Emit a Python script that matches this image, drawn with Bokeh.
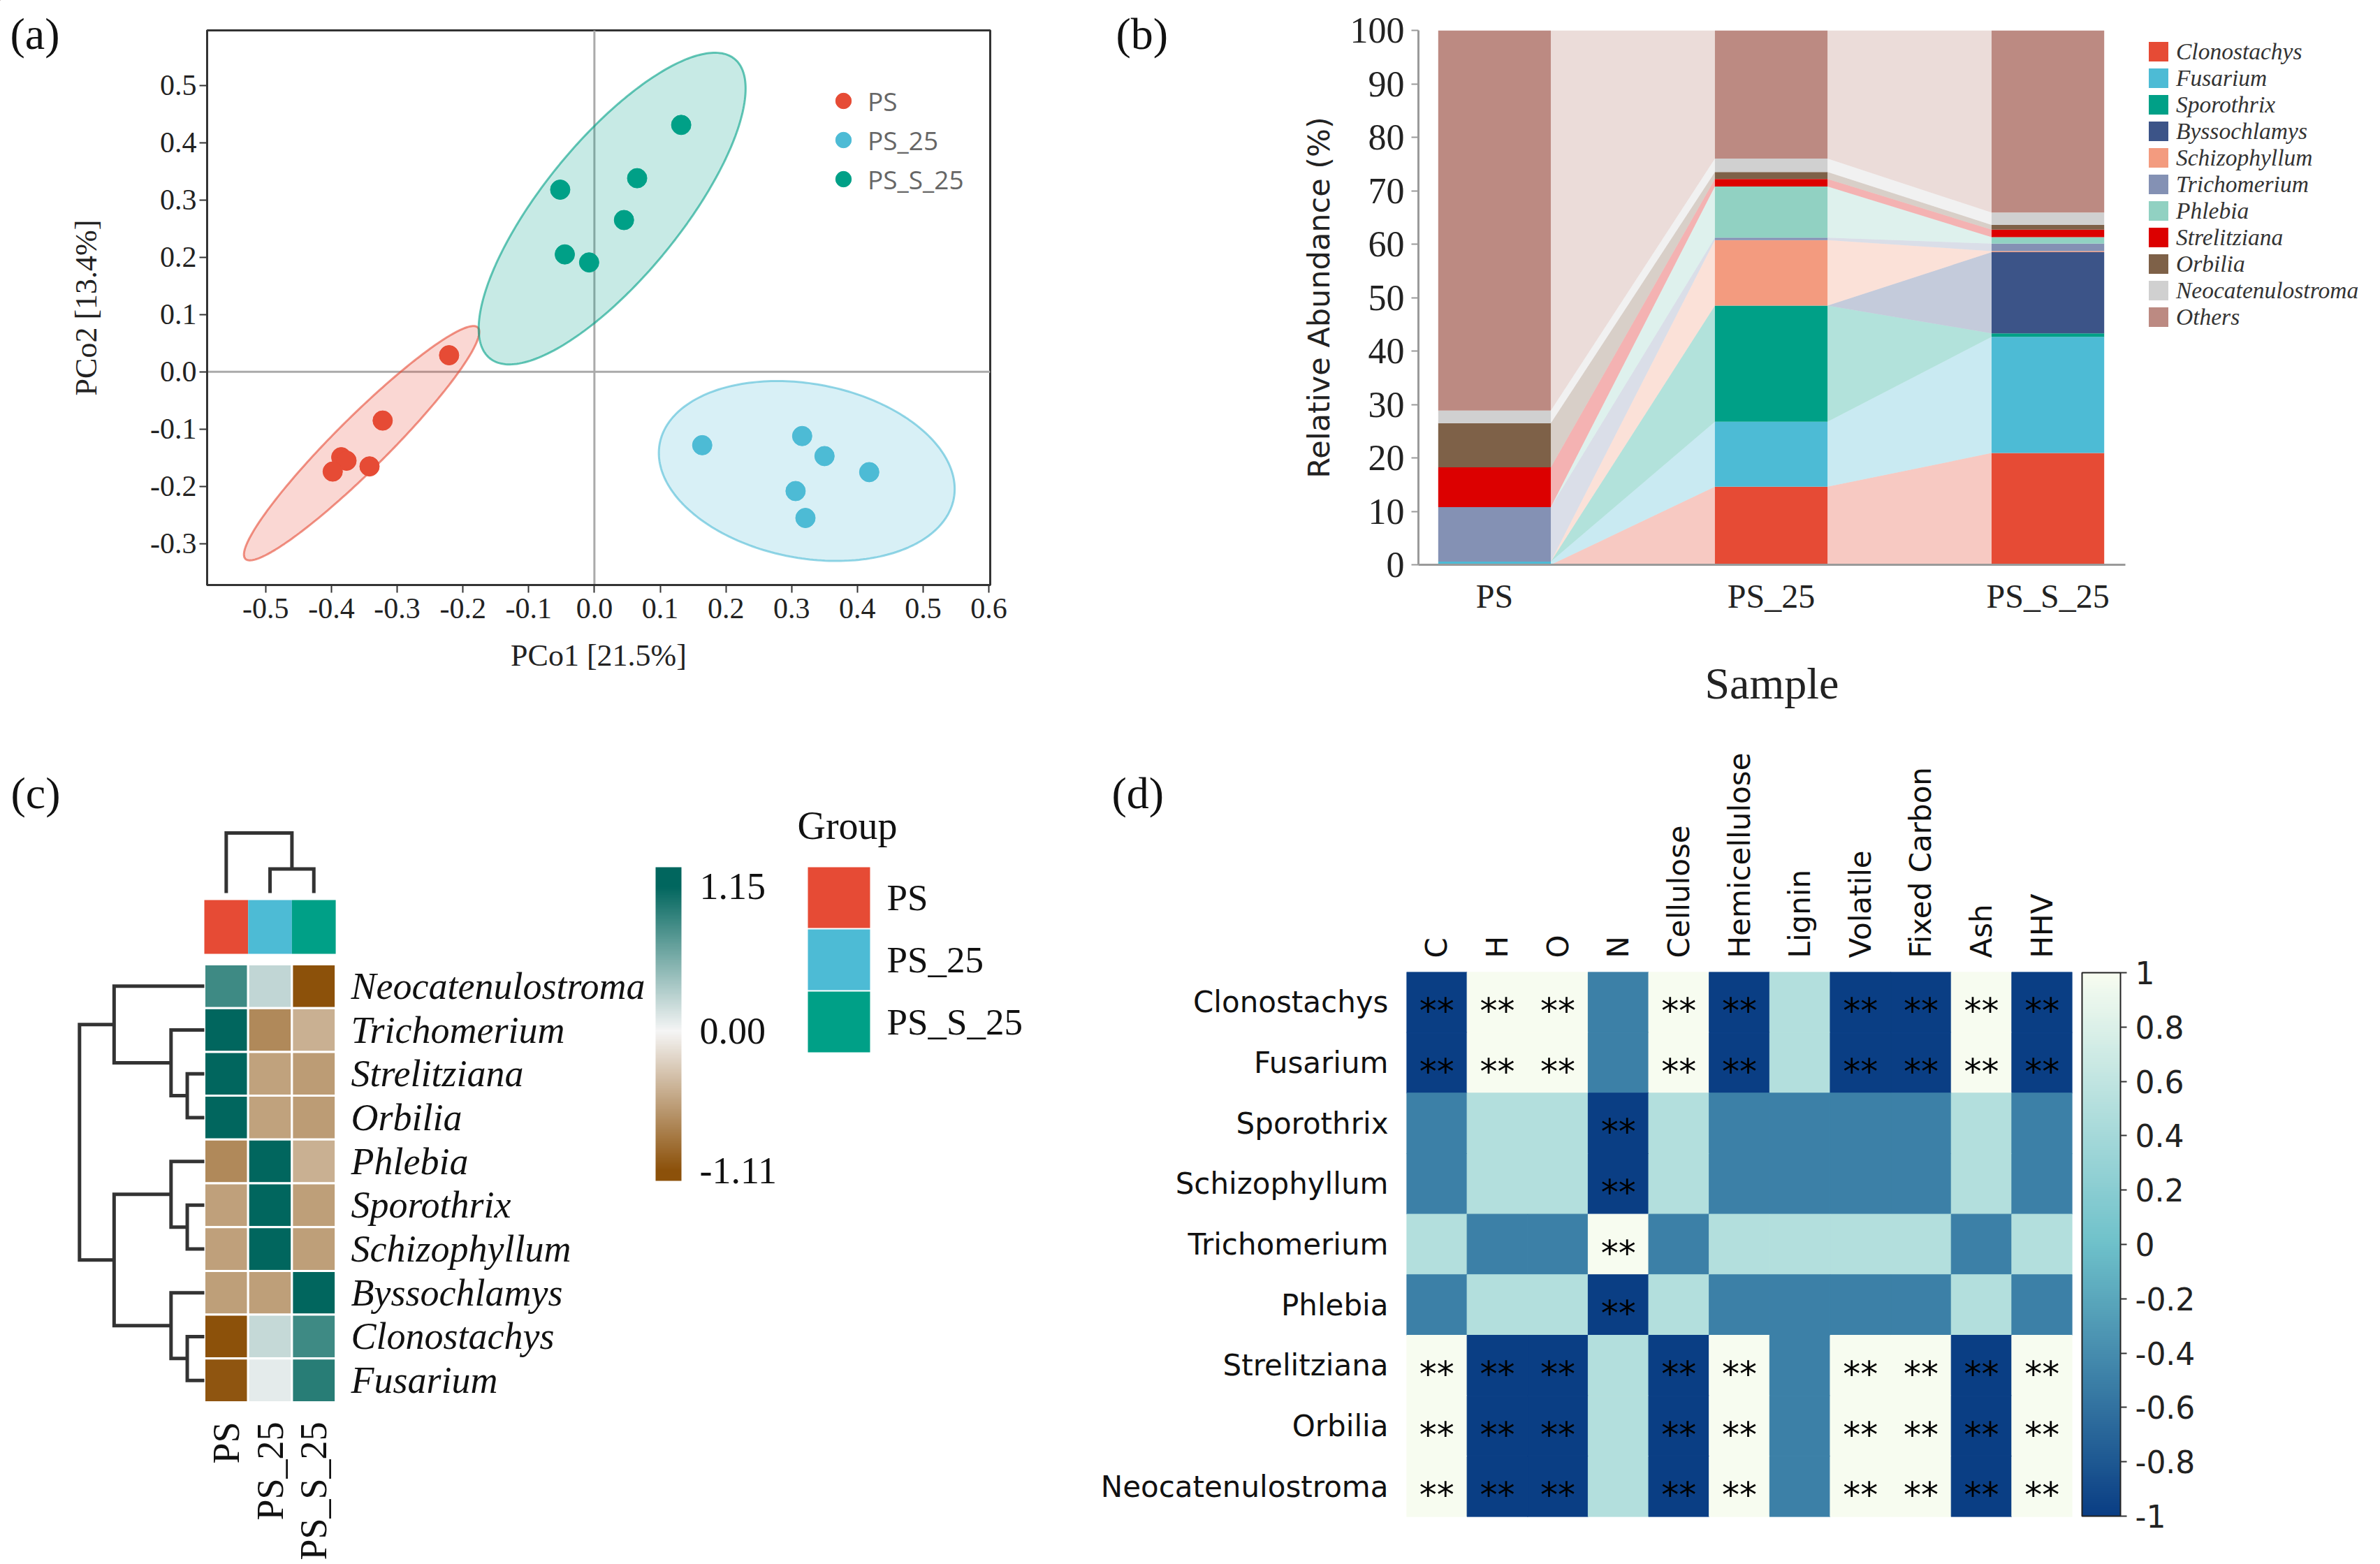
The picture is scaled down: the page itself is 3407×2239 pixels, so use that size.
import numpy as np
from bokeh.plotting import figure
from bokeh.models import (ColumnDataSource, Range1d, FactorRange, FixedTicker, Span, Legend,
                          LegendItem, LinearColorMapper, ColorBar, Label, NumeralTickFormatter,
                          CustomJSTickFormatter)
from bokeh.layouts import row, column
from bokeh.embed import file_html
from bokeh.resources import INLINE
from bokeh.core.properties import value

SERIF = "Liberation Serif"
SANS = "DejaVu Sans"

# ================= DATA =================
# (a) PCoA
pcoa_groups = ["PS", "PS_25", "PS_S_25"]
pcoa_colors = ["#E64B35", "#4DBBD5", "#00A087"]
ps_x = [-0.221, -0.322, -0.385, -0.377, -0.342, -0.398]
ps_y = [0.029, -0.085, -0.149, -0.155, -0.165, -0.174]
ps25_x = [0.164, 0.316, 0.350, 0.418, 0.306, 0.321]
ps25_y = [-0.128, -0.112, -0.147, -0.175, -0.208, -0.255]
pss25_x = [0.132, -0.052, 0.065, 0.045, -0.045, -0.008]
pss25_y = [0.431, 0.318, 0.338, 0.265, 0.205, 0.191]
# group ellipses: centre x, centre y, x half-extent, y half-extent, correlation
ell_cx = [-0.354, 0.323, 0.027]
ell_cy = [-0.1245, -0.173, 0.285]
ell_rx = [0.179, 0.225, 0.203]
ell_ry = [0.2045, 0.157, 0.272]
ell_rho = [0.95, -0.2, 0.77]
pcoa_xticks = [-0.5, -0.4, -0.3, -0.2, -0.1, 0.0, 0.1, 0.2, 0.3, 0.4, 0.5, 0.6]
pcoa_yticks = [-0.3, -0.2, -0.1, 0.0, 0.1, 0.2, 0.3, 0.4, 0.5]

# (b) relative abundance (%), stacked bottom -> top
samples = ["PS", "PS_25", "PS_S_25"]
taxa_b = ["Clonostachys", "Fusarium", "Sporothrix", "Byssochlamys", "Schizophyllum",
          "Trichomerium", "Phlebia", "Strelitziana", "Orbilia", "Neocatenulostroma", "Others"]
taxa_b_colors = ["#E64B35", "#4DBBD5", "#00A087", "#3C5488", "#F39B7F",
                 "#8491B4", "#91D1C2", "#DC0000", "#7E6148", "#D0D0D0", "#BC8A82"]
ab_ps = [0.0, 0.6, 0.0, 0.0, 0.0, 10.2, 0.0, 7.45, 8.25, 2.35, 71.15]
ab_ps25 = [14.6, 12.15, 21.75, 0.0, 12.25, 0.45, 9.6, 1.4, 1.3, 2.5, 24.0]
ab_pss25 = [20.9, 21.75, 0.65, 15.2, 0.2, 1.4, 1.2, 1.4, 0.9, 2.3, 34.1]
b_yticks = [0, 10, 20, 30, 40, 50, 60, 70, 80, 90, 100]

# (c) row-scaled heatmap
taxa_c = ["Neocatenulostroma", "Trichomerium", "Strelitziana", "Orbilia", "Phlebia",
          "Sporothrix", "Schizophyllum", "Byssochlamys", "Clonostachys", "Fusarium"]
z_ps = [0.86, 1.15, 1.15, 1.15, -0.73, -0.57, -0.57, -0.58, -1.11, -1.08]
z_ps25 = [0.24, -0.73, -0.56, -0.56, 1.15, 1.15, 1.15, -0.58, 0.23, 0.08]
z_pss25 = [-1.11, -0.465, -0.60, -0.60, -0.465, -0.58, -0.58, 1.15, 0.86, 0.96]
c_ticks = [-1.11, 0.00, 1.15]
# dendrograms: (left, right, height); ints refer to earlier merges
row_merges = [("Strelitziana", "Orbilia", 0.39), ("Trichomerium", 0, 0.76),
              ("Neocatenulostroma", 1, 2.06), ("Sporothrix", "Schizophyllum", 0.39),
              ("Phlebia", 3, 0.76), ("Clonostachys", "Fusarium", 0.39),
              ("Byssochlamys", 5, 0.76), (4, 6, 2.06), (2, 7, 2.85)]
col_merges = [("PS_25", "PS_S_25", 0.55), ("PS", 0, 1.37)]

# (d) correlation matrix
d_cols = ["C", "H", "O", "N", "Cellulose", "Hemicellulose", "Lignin", "Volatile",
          "Fixed Carbon", "Ash", "HHV"]
d_rows = ["Clonostachys", "Fusarium", "Sporothrix", "Schizophyllum", "Trichomerium",
          "Phlebia", "Strelitziana", "Orbilia", "Neocatenulostroma"]
r_clonostachys = [-1, 1, 1, -0.5, 1, -1, 0.5, -1, -1, 1, -1]
r_fusarium = [-1, 1, 1, -0.5, 1, -1, 0.5, -1, -1, 1, -1]
r_sporothrix = [-0.5, 0.5, 0.5, -1, 0.5, -0.5, -0.5, -0.5, -0.5, 0.5, -0.5]
r_schizophyllum = [-0.5, 0.5, 0.5, -1, 0.5, -0.5, -0.5, -0.5, -0.5, 0.5, -0.5]
r_trichomerium = [0.5, -0.5, -0.5, 1, -0.5, 0.5, 0.5, 0.5, 0.5, -0.5, 0.5]
r_phlebia = [-0.5, 0.5, 0.5, -1, 0.5, -0.5, -0.5, -0.5, -0.5, 0.5, -0.5]
r_strelitziana = [1, -1, -1, 0.5, -1, 1, -0.5, 1, 1, -1, 1]
r_orbilia = [1, -1, -1, 0.5, -1, 1, -0.5, 1, 1, -1, 1]
r_neocatenulostroma = [1, -1, -1, 0.5, -1, 1, -0.5, 1, 1, -1, 1]
d_cb_ticks = [-1, -0.8, -0.6, -0.4, -0.2, 0, 0.2, 0.4, 0.6, 0.8, 1]


# ================= helpers =================
def hex2rgb(c):
    return [int(c[i:i + 2], 16) for i in (1, 3, 5)]


def mix(c1, c2, t):
    a, b = hex2rgb(c1), hex2rgb(c2)
    return "#%02x%02x%02x" % tuple(int(round(x + (y - x) * t)) for x, y in zip(a, b))


def piecewise_palette(stops, lo, hi, n=256):
    vals, cols = zip(*stops)
    out = []
    for v in np.linspace(lo, hi, n):
        if v <= vals[0]:
            out.append(cols[0]); continue
        if v >= vals[-1]:
            out.append(cols[-1]); continue
        for j in range(len(vals) - 1):
            if vals[j] <= v <= vals[j + 1]:
                out.append(mix(cols[j], cols[j + 1], (v - vals[j]) / (vals[j + 1] - vals[j])))
                break
    return out


def ellipse_xy(cx, cy, rx, ry, rho, n=240):
    t = np.linspace(0, 2 * np.pi, n)
    phi = np.arccos(rho)
    return cx + rx * np.cos(t), cy + ry * np.cos(t - phi)


def dendro(leaf_pos, merges):
    pos = dict(leaf_pos)
    hgt = {k: 0.0 for k in leaf_pos}
    hs, ps = [], []
    for i, (a, b, h) in enumerate(merges):
        hs.append([hgt[a], h, h, hgt[b]])
        ps.append([pos[a], pos[a], pos[b], pos[b]])
        pos[i] = (pos[a] + pos[b]) / 2.0
        hgt[i] = h
    return hs, ps


def new_fig(w, h, **kw):
    f = figure(width=w, height=h, title=None, output_backend="svg", toolbar_location=None,
               frame_align=False, **kw)
    f.background_fill_color = "white"
    f.border_fill_color = "white"
    return f


# page layout (screenshot pixels)
W, H = 3400, 2235
ROW1_TOP, ROW1_BOTTOM, ROW2_TOP, ROW2_BOTTOM = 0, 1030, 1030, H
AB_SPLIT, CD_SPLIT = 1600, 1474

# ================= (a) =================
A_FRAME = (296, 1417, 43, 837)  # left, right, top, bottom
pa = new_fig(AB_SPLIT, ROW1_BOTTOM - ROW1_TOP,
             x_range=Range1d(-0.589, 0.602), y_range=Range1d(-0.372, 0.596),
             min_border_left=A_FRAME[0], min_border_right=AB_SPLIT - A_FRAME[1],
             min_border_top=A_FRAME[2] - ROW1_TOP, min_border_bottom=ROW1_BOTTOM - A_FRAME[3])
pa.grid.visible = False
pa.outline_line_color = "#333"
pa.outline_line_width = 3
pa.add_layout(Span(location=0, dimension="width", line_color="#aaaaaa", line_width=3, level="underlay"))
pa.add_layout(Span(location=0, dimension="height", line_color="#aaaaaa", line_width=3, level="underlay"))
pts = [(ps_x, ps_y), (ps25_x, ps25_y), (pss25_x, pss25_y)]
for i in range(3):
    ex, ey = ellipse_xy(ell_cx[i], ell_cy[i], ell_rx[i], ell_ry[i], ell_rho[i])
    pa.patch(ex, ey, fill_color=pcoa_colors[i], fill_alpha=0.22, line_color=pcoa_colors[i],
             line_alpha=0.6, line_width=3)
a_items = []
for i, g in enumerate(pcoa_groups):
    r = pa.scatter(pts[i][0], pts[i][1], size=28, color=pcoa_colors[i])
    a_items.append(LegendItem(label=g, renderers=[r]))
pa.xaxis.ticker = FixedTicker(ticks=pcoa_xticks)
pa.yaxis.ticker = FixedTicker(ticks=pcoa_yticks)
pa.axis.formatter = NumeralTickFormatter(format="0.0")
pa.xaxis.axis_label = "PCo1 [21.5%]"
pa.yaxis.axis_label = "PCo2 [13.4%]"
for ax in pa.axis:
    ax.axis_line_color = "#333"
    ax.axis_line_width = 3
    ax.major_tick_line_color = "#333"
    ax.major_tick_line_width = 2
    ax.major_tick_out = 11
    ax.major_tick_in = 0
    ax.minor_tick_line_color = None
    ax.major_label_text_font = SERIF
    ax.major_label_text_font_size = "42px"
    ax.major_label_text_color = "#222"
    ax.axis_label_text_font = SERIF
    ax.axis_label_text_font_size = "44px"
    ax.axis_label_text_font_style = "normal"
    ax.axis_label_text_color = "#222"
pa.xaxis.major_label_standoff = 8
pa.xaxis.axis_label_standoff = 26
pa.yaxis.major_label_standoff = 4
pa.yaxis.axis_label_standoff = 64
LEG_A_ROW = 56
leg_a = Legend(items=a_items,
               location=(1172 - A_FRAME[0], A_FRAME[3] - (144 - LEG_A_ROW / 2 + 3 * LEG_A_ROW)),
               glyph_width=70, glyph_height=LEG_A_ROW, spacing=0, label_height=LEG_A_ROW,
               label_standoff=0, padding=0, margin=0, border_line_color=None,
               background_fill_alpha=0, label_text_font="Open Sans", label_text_font_size="37px",
               label_text_color="#666")
pa.add_layout(leg_a)

# ================= (b) =================
B_FRAME = (2030, 3042, 43, 808)
pb = new_fig(W - AB_SPLIT, ROW1_BOTTOM - ROW1_TOP,
             x_range=Range1d(-0.275, 2.28), y_range=Range1d(0, 100),
             min_border_left=B_FRAME[0] - AB_SPLIT, min_border_right=W - B_FRAME[1],
             min_border_top=B_FRAME[2] - ROW1_TOP, min_border_bottom=ROW1_BOTTOM - B_FRAME[3])
pb.grid.visible = False
pb.outline_line_color = None
M = np.array([ab_ps, ab_ps25, ab_pss25])
tops = np.cumsum(M, axis=1)
bots = tops - M
xs = np.arange(len(samples))
BW = 0.407
for k, sp in enumerate(taxa_b):
    fx, fy = [], []
    for i in range(len(samples) - 1):
        fx.append([xs[i] + BW / 2, xs[i] + BW / 2, xs[i + 1] - BW / 2, xs[i + 1] - BW / 2])
        fy.append([bots[i, k], tops[i, k], tops[i + 1, k], bots[i + 1, k]])
    pb.patches(fx, fy, fill_color=taxa_b_colors[k], fill_alpha=0.3, line_color=None)
    pb.vbar(x=xs, bottom=bots[:, k], top=tops[:, k], width=BW,
            fill_color=taxa_b_colors[k], line_color=None)
pb.xaxis.ticker = FixedTicker(ticks=list(xs))
pb.xaxis.major_label_overrides = {int(i): s for i, s in zip(xs, samples)}
pb.yaxis.ticker = FixedTicker(ticks=b_yticks)
pb.xaxis.axis_label = "Sample"
pb.yaxis.axis_label = "Relative Abundance (%)"
for ax in pb.axis:
    ax.axis_line_color = "#9a9a9a"
    ax.axis_line_width = 3
    ax.minor_tick_line_color = None
    ax.major_label_text_font = SERIF
    ax.major_label_text_color = "#222"
    ax.axis_label_text_font_style = "normal"
    ax.axis_label_text_color = "#222"
pb.yaxis.major_label_text_font_size = "52px"
pb.xaxis.major_label_text_font_size = "48px"
pb.yaxis.major_tick_line_color = "#9a9a9a"
pb.yaxis.major_tick_line_width = 2
pb.yaxis.major_tick_out = 10
pb.yaxis.major_tick_in = 0
pb.yaxis.major_label_standoff = 10
pb.yaxis.axis_label_text_font = SANS
pb.yaxis.axis_label_text_font_size = "43px"
pb.yaxis.axis_label_standoff = 17
pb.xaxis.major_tick_line_color = None
pb.xaxis.major_tick_out = 0
pb.xaxis.major_tick_in = 0
pb.xaxis.major_label_standoff = 18
pb.xaxis.axis_label_text_font = SERIF
pb.xaxis.axis_label_text_font_size = "64px"
pb.xaxis.axis_label_standoff = 60

# ================= (c) =================
CELL = 62.7
HM_LEFT, HM_BOTTOM = 292, 2007


def cxp(px):
    return (px - HM_LEFT) / CELL


def cyp(py):
    return (HM_BOTTOM - py) / CELL


pc = new_fig(CD_SPLIT, ROW2_BOTTOM - ROW2_TOP,
             x_range=Range1d(cxp(0), cxp(CD_SPLIT)),
             y_range=Range1d(cyp(ROW2_BOTTOM), cyp(ROW2_TOP)),
             x_axis_location=None, y_axis_location=None, min_border=0)
pc.grid.visible = False
pc.outline_line_color = None
pal_c = piecewise_palette([(c_ticks[0], "#8C510A"), (0.0, "#F5F5F5"), (c_ticks[-1], "#01665E")],
                          -1.19, 1.30)
cmap_c = LinearColorMapper(palette=pal_c, low=-1.19, high=1.30)
nrow = len(taxa_c)
hx, hy, hz = [], [], []
for j, zc in enumerate([z_ps, z_ps25, z_pss25]):
    for i in range(nrow):
        hx.append(j + 0.5)
        hy.append(nrow - i - 0.5)
        hz.append(zc[i])
pc.rect(x="x", y="y", width=1, height=1, source=ColumnDataSource(dict(x=hx, y=hy, z=hz)),
        fill_color={"field": "z", "transform": cmap_c}, line_color="white", line_width=3)
# group colour strip
g_y0, g_y1 = cyp(1365), cyp(1288)
pc.rect(x=[j + 0.5 for j in range(3)], y=(g_y0 + g_y1) / 2, width=1, height=g_y1 - g_y0,
        fill_color=pcoa_colors, line_color=None)
# row dendrogram
leaf_rows = {t: nrow - i - 0.5 for i, t in enumerate(taxa_c)}
hs, ps_ = dendro(leaf_rows, row_merges)
pc.multi_line([[-h for h in hh] for hh in hs], ps_, line_color="#333", line_width=5,
              line_join="miter")
# column dendrogram
base = cyp(1278)
leaf_cols = {g: j + 0.5 for j, g in enumerate(pcoa_groups)}
hs, ps_ = dendro(leaf_cols, col_merges)
pc.multi_line(ps_, [[base + h for h in hh] for hh in hs], line_color="#333", line_width=5,
              line_join="miter")
# labels
pc.text(x=[cxp(502)] * nrow, y=[nrow - i - 0.5 for i in range(nrow)], text=taxa_c,
        text_font=value(SERIF), text_font_style="italic", text_font_size="54px",
        text_baseline="middle", text_align="left", text_color="#111")
pc.text(x=[j + 0.5 for j in range(3)], y=[cyp(2035)] * 3, text=pcoa_groups, angle=np.pi / 2,
        text_font=value(SERIF), text_font_size="54px", text_baseline="middle",
        text_align="right", text_color="#111")
# group legend
box_h = 87 / CELL
step = 89 / CELL
gl_top = cyp(1241)
gl_cx = (cxp(1156) + cxp(1245)) / 2
gl_w = 89 / CELL
gl_y = [gl_top - box_h / 2 - j * step for j in range(3)]
pc.rect(x=[gl_cx] * 3, y=gl_y, width=gl_w, height=box_h, fill_color=pcoa_colors, line_color=None)
pc.text(x=[cxp(1269)] * 3, y=gl_y, text=pcoa_groups, text_font=value(SERIF),
        text_font_size="53px", text_baseline="middle", text_align="left", text_color="#111")
pc.text(x=[cxp(1141)], y=[cyp(1181)], text=["Group"], text_font=value(SERIF),
        text_font_size="56px", text_baseline="middle", text_align="left", text_color="#111")
cb_c = ColorBar(color_mapper=cmap_c, orientation="vertical",
                location=(938, ROW2_BOTTOM - 1690),
                width=37, height=449, padding=0, ticker=FixedTicker(ticks=c_ticks),
                formatter=NumeralTickFormatter(format="0.00"), major_tick_line_color=None,
                major_tick_in=0, major_tick_out=0, minor_tick_line_color=None, bar_line_color=None,
                border_line_color=None, background_fill_alpha=0, label_standoff=26,
                major_label_text_font=SERIF, major_label_text_font_size="54px",
                major_label_text_color="#111")
pc.add_layout(cb_c)
pc.add_layout(Label(x=15, y=ROW2_BOTTOM - 1135, x_units="screen", y_units="screen",
                    text="(c)", text_font=SERIF, text_font_size="64px", text_color="#111",
                    text_align="left", text_baseline="middle"))

# ================= (d) =================
D_FRAME = (2013, 2966, 1391, 2171)
pdx = new_fig(W - CD_SPLIT, ROW2_BOTTOM - ROW2_TOP, x_range=FactorRange(*d_cols),
              y_range=FactorRange(*reversed(d_rows)), x_axis_location="above",
              min_border_left=D_FRAME[0] - CD_SPLIT, min_border_right=W - D_FRAME[1],
              min_border_top=D_FRAME[2] - ROW2_TOP, min_border_bottom=ROW2_BOTTOM - D_FRAME[3])
pdx.grid.visible = False
pdx.outline_line_color = None
pal_d = piecewise_palette([(-1, "#0A3E84"), (0, "#6EC1CA"), (1, "#F7FCF0")], -1, 1)
cmap_d = LinearColorMapper(palette=pal_d, low=-1, high=1)
r_rows = [r_clonostachys, r_fusarium, r_sporothrix, r_schizophyllum, r_trichomerium,
          r_phlebia, r_strelitziana, r_orbilia, r_neocatenulostroma]
dx, dy, dr = [], [], []
for rn, vals in zip(d_rows, r_rows):
    for cn, v in zip(d_cols, vals):
        dx.append(cn); dy.append(rn); dr.append(v)
src_d = ColumnDataSource(dict(x=dx, y=dy, r=dr))
pdx.rect(x="x", y="y", width=1, height=1, source=src_d,
         fill_color={"field": "r", "transform": cmap_d},
         line_color={"field": "r", "transform": cmap_d}, line_width=1)
sx = [a for a, v in zip(dx, dr) if abs(v) >= 0.999]
sy = [b for b, v in zip(dy, dr) if abs(v) >= 0.999]
pdx.text(x=sx, y=sy, text=["**"] * len(sx), text_font=value(SANS), text_font_size="50px",
         text_align="center", text_baseline="middle", y_offset=12, text_color="black")
for ax in pdx.axis:
    ax.axis_line_color = None
    ax.major_tick_line_color = None
    ax.major_tick_in = 0
    ax.major_tick_out = 0
    ax.minor_tick_line_color = None
    ax.major_label_text_font = SANS
    ax.major_label_text_font_size = "42px"
    ax.major_label_text_color = "#111"
pdx.xaxis.major_label_orientation = np.pi / 2
pdx.xaxis.major_label_standoff = 20
pdx.yaxis.major_label_standoff = 26
cb_d = ColorBar(color_mapper=cmap_d, orientation="vertical", location=(2980 - D_FRAME[0], 1),
                width=55, height=778, padding=0, ticker=FixedTicker(ticks=d_cb_ticks),
                formatter=CustomJSTickFormatter(code="return String(Math.round(tick*10)/10)"),
                major_tick_in=0, major_tick_out=9, major_tick_line_color="#333",
                major_tick_line_width=2, minor_tick_line_color=None, bar_line_color="#222",
                bar_line_width=2, border_line_color=None, background_fill_alpha=0,
                label_standoff=12, major_label_text_font=SANS, major_label_text_font_size="44px",
                major_label_text_color="#222")
pdx.add_layout(cb_d)

# ================= transparent overlay: panel letters + legend of (b) =================
ov = figure(width=W, height=H, title=None, output_backend="svg", toolbar_location=None,
            x_range=Range1d(0, W), y_range=Range1d(H, 0), x_axis_location=None,
            y_axis_location=None, min_border=0, frame_align=False, margin=(-H, 0, 0, 0))
ov.grid.visible = False
ov.outline_line_color = None
ov.background_fill_color = None
ov.border_fill_color = None
ov.text(x=[14, 1597, 1591], y=[48, 48, 1135], text=["(a)", "(b)", "(d)"], text_font=value(SERIF),
        text_font_size="64px", text_align="left", text_baseline="middle", text_color="#111")
# legend swatch proxies (single off-canvas point each, never visible in the plot area)
b_items = []
for k, sp in enumerate(taxa_b):
    proxy = ov.vbar(x=[-1000], bottom=[-1000], top=[-999], width=1,
                    fill_color=taxa_b_colors[k], line_color=None)
    b_items.append(LegendItem(label=sp, renderers=[proxy]))
LEG_B_FONT = 33.5
LEG_B_TOP = 57.7        # top edge of the legend block
LEG_B_HEIGHT = 415      # measured block height (11 rows)
leg_b = Legend(items=b_items, location=(3072, H - (LEG_B_TOP + LEG_B_HEIGHT)),
               glyph_width=35, glyph_height=35, spacing=0, label_height=35, label_standoff=8,
               padding=0, margin=0, border_line_color=None, background_fill_alpha=0,
               label_text_font=SERIF, label_text_font_style="italic",
               label_text_font_size="%spx" % LEG_B_FONT, label_text_color="#333")
ov.add_layout(leg_b)

layout = column(row(pa, pb, spacing=0), row(pc, pdx, spacing=0), ov, spacing=0)
open("out.html", "w").write(file_html(layout, INLINE))
